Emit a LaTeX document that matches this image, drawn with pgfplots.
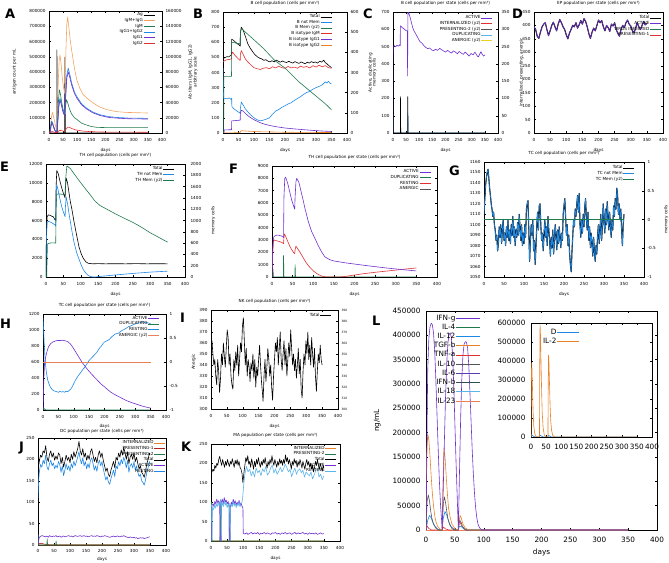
\documentclass[border=0pt]{standalone}
\usepackage{pgfplots}
\usepackage{pgfplotstable}
\pgfplotsset{compat=1.18}
\usepackage{fontspec}
\setmainfont{DejaVu Sans}
\newcommand{\sm}{\fontsize{4.2}{5}\selectfont}
\newcommand{\xs}{\fontsize{3}{3.6}\selectfont}
\newcommand{\md}{\fontsize{7.3}{8.8}\selectfont}
\newcommand{\lett}{\fontsize{13}{13}\selectfont\bfseries}
\definecolor{gpurple}{HTML}{7030D0}
\definecolor{ggreen}{HTML}{1F7A4D}
\definecolor{gblue}{HTML}{1E88E5}
\definecolor{glblue}{HTML}{5AB4E9}
\definecolor{gorange}{HTML}{E8822A}
\definecolor{glorange}{HTML}{F4A460}
\definecolor{gred}{HTML}{E03030}
\definecolor{gyellow}{HTML}{E8D020}
\definecolor{ggray}{HTML}{555555}
\definecolor{gdred}{HTML}{B02020}
\definecolor{gsalmon}{HTML}{E8805A}
\definecolor{gslate}{HTML}{2F4F4F}
\definecolor{gviolet}{HTML}{5A3AB0}

\pgfplotsset{
  /pgf/number format/assume math mode=true,
  /pgf/number format/1000 sep={},
  /pgf/number format/fixed,
  /pgf/number format/precision=2,
  legend image code/.code={\draw[#1,line width=0.7pt] (0pt,0pt) -- (11pt,0pt);},
  gp/.style={
    scale only axis, anchor=north west,
    xmin=0, xmax=400, xtick={0,50,100,150,200,250,300,350,400},
    font=\sm, tick label style={font=\sm},
    xticklabel style={yshift=-1.5pt},
    label style={font=\sm},
    title style={font=\sm, yshift=-3pt},
    xlabel={days},
    scaled y ticks=false, scaled x ticks=false,
    yticklabel={\pgfmathprintnumber[fixed,precision=2,1000 sep={},assume math mode=true]{\tick}},
    major tick length=2pt,
    axis line style={line width=0.45pt,-},
    every tick/.style={black, line width=0.4pt},
    tick align=inside,
    legend cell align=right, legend plot pos=right,
    legend style={draw=none, fill=none, font=\sm, anchor=north east, inner sep=0pt, row sep=0pt, nodes={inner sep=0.5pt}},
    every axis plot/.append style={line width=0.6pt, line join=round},
  },
  gp2/.style={gp, axis y line*=right, axis x line=none, xlabel={}},
}

\pgfplotstableread{
day v
0 395
5 385
10 360
15 352
20 375
25 395
30 405
35 410
40 385
45 362
50 380
55 400
60 412
65 395
70 380
75 405
80 422
85 410
90 395
95 385
100 365
105 350
110 372
115 385
120 400
125 395
130 410
135 390
140 402
145 418
150 405
155 425
160 415
165 395
170 370
175 352
180 375
185 390
190 380
195 400
200 420
205 410
210 418
215 395
220 380
225 400
230 392
235 378
240 405
245 398
250 410
255 385
260 370
265 360
270 385
275 400
280 392
285 410
290 420
295 405
300 398
305 380
310 372
315 390
320 410
325 395
330 385
335 400
340 415
345 402
350 408
}\tabD

\pgfplotstableread{
day v
0 1110
2 1125
4 1138
6 1145
8 1150
10 1153
12 1145
14 1135
16 1128
18 1120
20 1115
22 1108
24 1112
26 1100
28 1095
30 1085
32 1090
34 1075
36 1082
38 1098
40 1088
42 1100
44 1082
46 1095
48 1105
50 1085
52 1092
54 1080
56 1098
58 1088
60 1104
62 1085
64 1095
66 1082
68 1100
70 1090
72 1108
74 1088
76 1098
78 1080
80 1095
82 1088
84 1102
86 1090
88 1110
90 1098
92 1085
94 1100
96 1080
98 1092
100 1082
102 1100
104 1088
106 1115
108 1120
110 1123
112 1095
114 1065
116 1085
118 1100
120 1090
122 1105
124 1075
126 1085
128 1062
130 1080
132 1100
134 1112
136 1095
138 1118
140 1120
142 1100
144 1085
146 1092
148 1075
150 1090
152 1105
154 1088
156 1098
158 1080
160 1108
162 1095
164 1085
166 1070
168 1088
170 1078
172 1095
174 1072
176 1085
178 1100
180 1090
182 1076
184 1095
186 1082
188 1098
190 1088
192 1078
194 1092
196 1085
198 1110
200 1118
202 1125
204 1108
206 1090
208 1100
210 1080
212 1090
214 1072
216 1062
218 1055
220 1075
222 1090
224 1105
226 1098
228 1115
230 1108
232 1120
234 1128
236 1112
238 1130
240 1100
242 1088
244 1105
246 1092
248 1110
250 1098
252 1118
254 1125
256 1105
258 1095
260 1112
262 1085
264 1098
266 1078
268 1092
270 1082
272 1070
274 1088
276 1075
278 1065
280 1080
282 1072
284 1090
286 1100
288 1082
290 1095
292 1110
294 1085
296 1098
298 1120
300 1105
302 1092
304 1115
306 1100
308 1122
310 1108
312 1095
314 1112
316 1100
318 1088
320 1105
322 1095
324 1118
326 1108
328 1125
330 1115
332 1135
334 1128
336 1110
338 1120
340 1105
342 1115
344 1095
346 1080
348 1100
350 1110
}\tabG

\pgfplotstableread{
day v
0 355
3 362
6 350
9 340
12 345
15 330
18 322
21 345
24 335
27 315
30 328
33 350
36 340
39 360
42 348
45 338
48 355
51 372
54 365
57 340
60 350
63 330
66 322
69 318
72 345
75 335
78 352
81 340
84 358
87 330
90 345
93 360
96 352
99 375
102 383
105 362
108 340
111 355
114 330
117 345
120 338
123 325
126 342
129 335
132 350
135 328
138 345
141 320
144 338
147 330
150 345
153 358
156 340
159 325
162 315
164 307
167 330
170 345
173 325
176 338
179 355
182 345
185 330
188 340
191 320
194 308
197 330
200 345
203 360
206 352
209 365
212 340
215 355
218 370
221 345
224 335
227 350
230 362
233 340
236 355
239 330
242 345
245 360
248 348
251 372
254 355
257 340
260 350
263 335
266 345
269 328
272 340
275 355
278 332
281 345
284 318
287 310
290 335
293 350
296 340
299 362
302 350
305 370
308 345
311 358
314 340
317 365
320 350
323 338
326 355
329 330
332 316
335 335
338 350
341 342
344 358
347 345
350 340
}\tabI

\pgfplotstableread{
day tot rest act
0 175 110 0
2 185 150 10
4 195 170 18
8 210 188 20
12 205 182 22
16 220 198 21
20 215 190 20
24 232 210 19
28 205 183 21
32 195 175 18
36 212 190 22
40 220 198 20
44 205 185 19
48 215 192 21
52 198 178 20
56 208 186 22
60 200 180 19
64 215 195 20
68 210 188 21
72 190 170 18
76 205 185 20
80 182 162 21
84 195 175 19
88 210 190 20
92 198 176 21
96 205 185 22
100 192 172 20
104 212 190 21
108 200 180 19
112 218 196 20
116 205 185 22
120 215 195 21
124 225 205 20
128 242 218 21
132 220 200 22
136 210 190 20
140 225 204 21
144 205 185 22
148 215 195 20
152 198 178 21
156 210 190 19
160 200 180 20
164 218 198 21
168 225 204 22
172 210 190 20
176 195 175 21
180 205 185 20
184 192 172 22
188 210 190 21
192 220 198 20
196 205 185 19
200 215 195 21
204 198 178 20
208 185 165 22
212 172 152 21
216 180 160 20
220 165 147 19
224 160 142 18
228 175 155 19
232 185 165 20
236 195 175 21
240 180 160 19
244 205 185 20
248 198 178 21
252 215 195 20
256 205 185 19
260 222 200 21
264 210 190 20
268 228 205 22
272 215 195 20
276 200 180 19
280 218 198 18
284 190 170 17
288 205 185 19
292 212 190 18
296 200 180 17
300 215 195 18
304 195 175 16
308 205 185 17
312 190 170 15
316 178 160 16
320 185 165 17
324 170 150 16
328 165 146 17
332 158 140 15
336 172 152 16
340 190 170 17
344 200 180 18
348 215 195 19
350 210 190 19
}\tabJ

\pgfplotstableread{
day v
0 172
3 178
6 185
9 180
12 195
15 188
18 200
21 195
24 210
27 218
30 205
33 195
36 210
39 200
42 190
45 205
48 195
51 210
54 200
57 192
60 205
63 198
66 212
69 200
72 190
75 208
78 198
81 210
84 195
87 205
90 190
93 185
96 175
99 150
102 175
105 195
108 215
111 205
114 220
117 198
120 205
123 190
126 212
129 200
132 185
135 205
138 192
141 210
144 198
147 215
150 200
153 190
156 205
159 195
162 210
165 200
168 215
171 198
174 188
177 205
180 195
183 210
186 200
189 220
192 205
195 195
198 210
201 200
204 190
207 205
210 195
213 212
216 200
219 208
222 195
225 210
228 200
231 222
234 205
237 215
240 198
243 210
246 200
249 185
252 205
255 195
258 212
261 200
264 208
267 190
270 205
273 195
276 210
279 200
282 188
285 205
288 195
291 185
294 200
297 210
300 195
303 205
306 190
309 200
312 185
315 195
318 178
321 190
324 205
327 195
330 210
333 195
336 185
339 200
342 190
345 180
348 195
350 188
}\tabK

\begin{document}
\begin{tikzpicture}[x=1pt,y=1pt]
\path[use as bounding box] (0,0) rectangle (669,-562);

% ---------------- A ----------------
\begin{axis}[gp, at={(49pt,-11pt)}, width=113pt, height=122pt,
  ymin=0, ymax=800000, ytick={0,100000,200000,300000,400000,500000,600000,700000,800000}, ytick pos=left,
  ylabel={antigen count per mL}, ylabel style={at={(ticklabel cs:0.5,6pt)}}]
\addplot[black] coordinates {(0,0)(0,735000)(1.5,0)(27.8,0)(28,545000)(29.8,0)(55.8,0)(56,497000)(57.8,0)(350,0)};
\end{axis}
\begin{axis}[gp2, at={(49pt,-11pt)}, width=113pt, height=122pt,
  ymin=0, ymax=160000, ytick={0,20000,40000,60000,80000,100000,120000,140000,160000},
  ylabel={Ab titers (IgM, IgG1, IgG2)\\arbitrary scale}, ylabel style={align=center},
  legend style={at={(0.94,0.99)}}]
\addlegendimage{black}\addlegendentry{Ag}
\addplot[glorange] coordinates {(0,0)(3,500)(6,10000)(9,22000)(13,27000)(17,20000)(21,13000)(25,6000)(28,3000)(30,20000)(33,70000)(36,95000)(39,102400)(43,90000)(47,72000)(51,61000)(55,52000)(57,60000)(60,110000)(63,142000)(66,152000)(70,140000)(75,122000)(80,109000)(90,85000)(98,70000)(110,58000)(121,50200)(140,44000)(157,39200)(180,34000)(204,30600)(240,28000)(275,27000)(350,26200)};
\addlegendentry{IgM+IgG}
\addplot[ggreen] coordinates {(0,0)(3,0)(6,9000)(9,15200)(13,12000)(17,7000)(22,3000)(28,1500)(31,20000)(34,45000)(37,56600)(41,50000)(45,40000)(50,30600)(55,26000)(58,34000)(62,43600)(66,40000)(72,32000)(80,25000)(90,20000)(100,17400)(115,13000)(130,10800)(150,8500)(170,7400)(200,7100)(350,7000)};
\addlegendentry{IgM}
\addplot[gblue] coordinates {(0,0)(4,500)(7,9000)(10,15200)(13,13000)(17,8000)(22,3000)(28,1000)(31,15000)(35,38000)(39,45800)(43,40000)(48,31000)(52,26200)(56,24000)(59,50000)(63,76000)(68,85000)(73,78000)(80,66000)(90,54000)(98,48000)(115,38500)(133,32600)(155,27500)(180,24000)(210,21500)(240,20400)(280,19600)(350,19200)};
\addlegendentry{IgG1+IgG2}
\addplot[gpurple] coordinates {(0,0)(4,400)(7,8000)(10,13000)(13,11500)(17,7000)(22,2500)(28,800)(31,13500)(35,35000)(39,43000)(43,38000)(48,29500)(52,25000)(56,23000)(59,47000)(63,72000)(68,80000)(73,74000)(80,63000)(90,52000)(98,46000)(115,37000)(133,31500)(155,26500)(180,23000)(210,20500)(240,19500)(280,18700)(350,18300)};
\addlegendentry{IgG1}
\addplot[gred] coordinates {(0,0)(6,1000)(10,2000)(15,1500)(25,500)(30,1000)(37,3500)(45,3000)(55,2000)(60,5000)(66,7800)(72,7500)(80,6000)(95,4000)(120,2500)(150,1700)(200,1200)(350,1000)};
\addlegendentry{IgG2}
\end{axis}

% ---------------- B ----------------
\begin{axis}[gp, at={(223pt,-12pt)}, width=124pt, height=121pt,
  ymin=0, ymax=800, ytick={0,100,...,800}, ytick pos=left,
  title={B cell population (cells per mm³)}]
\addplot[black] coordinates {(0,489)(3,495)(8,500)(13,505)(18,503)(23,510)(27.5,518)(28,620)(32,615)(38,605)(45,592)(52,582)(55.5,575)(56,660)(59,700)(65,680)(72,640)(80,590)(88,560)(95,540)(102,520)(110,505)(118,495)(125,490)(132,480)(138,485)(145,475)(152,470)(158,478)(165,470)(172,482)(178,475)(185,468)(192,476)(198,470)(205,466)(212,474)(218,468)(225,462)(232,472)(238,466)(245,460)(252,470)(258,464)(265,458)(272,468)(278,462)(285,472)(292,465)(298,470)(305,462)(312,476)(318,468)(325,482)(330,465)(335,458)(340,448)(345,440)(350,432)};
\addplot[gblue] coordinates {(0,430)(1,300)(2,225)(8,228)(14,226)(20,232)(26,222)(28,230)(28.5,175)(35,160)(42,150)(50,138)(55.5,130)(56,160)(59,205)(65,185)(72,160)(80,140)(90,118)(100,100)(110,88)(120,80)(130,85)(140,92)(150,100)(160,125)(170,145)(180,155)(190,170)(200,180)(210,192)(220,200)(230,215)(240,228)(250,240)(260,255)(270,268)(280,275)(290,290)(300,300)(310,308)(320,318)(330,338)(335,330)(340,342)(345,330)(350,325)};
\addplot[gred] coordinates {(0,470)(5,478)(12,484)(20,486)(27.5,490)(28,520)(31,535)(38,515)(45,500)(52,485)(55.5,480)(56,520)(59,545)(65,520)(72,490)(80,470)(90,450)(100,432)(110,425)(120,420)(130,428)(140,432)(150,425)(160,438)(170,430)(180,442)(190,432)(200,428)(210,440)(220,430)(230,436)(240,428)(250,442)(260,434)(270,440)(280,430)(290,445)(300,436)(310,448)(320,438)(330,445)(340,432)(350,428)};
\addplot[gpurple] coordinates {(0,0)(3,0)(4,20)(27.5,22)(28,80)(55.5,85)(56,130)(59,150)(65,145)(72,130)(80,115)(90,100)(100,88)(110,78)(120,68)(135,58)(150,50)(170,42)(200,33)(230,27)(260,22)(290,17)(320,13)(350,10)};
\addplot[gorange] coordinates {(0,0)(55,2)(56,10)(60,15)(80,12)(120,8)(200,5)(350,3)};
\end{axis}
\begin{axis}[gp2, at={(223pt,-12pt)}, width=124pt, height=121pt,
  ymin=0, ymax=600, ytick={0,100,...,600},
  ylabel={memory cells}, ylabel style={at={(ticklabel cs:0.5,7pt)}},
  legend style={at={(0.88,0.985)}}]
\addlegendimage{black}\addlegendentry{Total}
\addlegendimage{gblue}\addlegendentry{B not Mem}
\addlegendimage{ggreen}\addlegendentry{B Mem (y2)}
\addlegendimage{gred}\addlegendentry{B isotype IgM}
\addlegendimage{gpurple}\addlegendentry{B isotype IgG1}
\addlegendimage{gorange}\addlegendentry{B isotype IgG2}
\addplot[ggreen, forget plot] coordinates {(0,0)(2,0)(3,281)(27.5,281)(28,450)(55.5,442)(56,500)(60,517)(100,462)(130,420)(168,358)(200,322)(243,256)(275,215)(308,173)(330,145)(350,115)};
\end{axis}

% ---------------- C ----------------
\begin{axis}[gp, at={(393pt,-12pt)}, width=105pt, height=121pt,
  ymin=0, ymax=700, ytick={0,100,...,700}, ytick pos=left,
  ylabel={Active, duplicating}, ylabel style={at={(ticklabel cs:0.5,2pt)}},
  title={B cell population per state (cells per mm³)}]
\addplot[glblue] coordinates {(0,0)(0.5,100)(1.5,0)(28,0)(28.5,100)(29.5,0)(56,0)(56.5,115)(57.5,0)(350,0)};
\addplot[gpurple] coordinates {(0,0)(0.8,500)(5,505)(10,498)(15,508)(20,502)(25,510)(27.5,505)(28,620)(30,618)(35,610)(40,605)(45,598)(50,592)(55,590)(55.5,330)(57,700)(60,695)(65,670)(70,640)(75,610)(80,590)(88,570)(95,550)(102,530)(110,520)(118,505)(125,495)(132,488)(140,492)(148,480)(155,476)(162,485)(170,478)(178,490)(185,482)(192,475)(200,468)(208,478)(215,470)(222,462)(230,475)(238,468)(245,458)(252,472)(260,462)(268,455)(275,468)(282,458)(290,445)(297,460)(305,452)(312,468)(320,448)(325,440)(330,455)(335,470)(340,455)(345,445)(350,452)};
\end{axis}
\begin{axis}[gp2, at={(393pt,-12pt)}, width=105pt, height=121pt,
  ymin=0, ymax=350, ytick={0,50,...,350},
  ylabel={internalized, presenting, anergic}, ylabel style={at={(ticklabel cs:0.5,3pt)}},
  legend style={at={(0.952,0.975)}}]
\addlegendimage{gpurple}\addlegendentry{ACTIVE}
\addlegendimage{gred}\addlegendentry{INTERNALIZED (y2)}
\addlegendimage{ggray}\addlegendentry{PRESENTING-2 (y2)}
\addlegendimage{glblue}\addlegendentry{DUPLICATING}
\addlegendimage{gyellow}\addlegendentry{ANERGIC (y2)}
\addplot[gred, forget plot] coordinates {(0,0)(350,0)};
\addplot[black, forget plot] coordinates {(0,0)(0.3,335)(1.5,0)(28,0)(28.3,105)(29.5,0)(56,0)(56.3,105)(57.5,0)(350,0)};
\addplot[gyellow, forget plot] coordinates {(0,0)(350,0)};
\end{axis}

% ---------------- D ----------------
\begin{axis}[gp, at={(534pt,-12pt)}, width=129pt, height=121pt,
  ymin=0, ymax=450, ytick={0,50,...,450},
  title={EP population per state (cells per mm³)},
  legend style={at={(0.99,0.975)}}]
\addlegendimage{black}\addlegendentry{Total}
\addlegendimage{gpurple}\addlegendentry{ACTIVE}
\addlegendimage{ggreen}\addlegendentry{VIRUS INFECTED}
\addlegendimage{gred}\addlegendentry{PRESENTING-1}
\addplot[black, line width=1.1pt, forget plot] table[x=day,y=v] {\tabD};
\addplot[gpurple, forget plot] table[x=day,y=v] {\tabD};
\addplot[ggreen, forget plot] coordinates {(0,0)(350,0)};
\addplot[gred, forget plot] coordinates {(0,0)(350,0)};
\end{axis}

% ---------------- E ----------------
\begin{axis}[gp, at={(46pt,-164pt)}, width=139pt, height=113pt,
  ymin=0, ymax=12000, ytick={0,2000,...,12000}, ytick pos=left,
  title={TH cell population (cells per mm³)}]
\addplot[black] coordinates {(0,0)(1,4000)(3,6400)(7,6600)(12,6550)(17,6450)(21,6400)(26,6070)(28,6000)(29,9500)(31,11300)(35,11000)(40,10200)(45,9500)(50,8900)(55,8400)(56,9500)(58,10500)(62,10000)(66,9000)(70,8000)(74,7300)(80,6000)(88,4470)(95,3200)(101,2500)(107,2000)(115,1600)(122,1450)(135,1400)(150,1420)(170,1400)(200,1410)(230,1400)(260,1420)(290,1400)(320,1410)(350,1400)};
\addplot[gblue] coordinates {(0,0)(1,3800)(3,5800)(7,5900)(12,5850)(17,5750)(21,5650)(26,5540)(28,5400)(29,8500)(31,9800)(35,9200)(40,8300)(45,7500)(50,6900)(55,6400)(56,7500)(58,8500)(62,7800)(66,6800)(70,5900)(74,5000)(80,3800)(88,2600)(95,1900)(101,1300)(107,800)(115,400)(122,150)(130,30)(140,0)(160,80)(200,220)(250,380)(300,520)(350,620)};
\end{axis}
\begin{axis}[gp2, at={(46pt,-164pt)}, width=139pt, height=113pt,
  ymin=0, ymax=2000, ytick={0,200,...,2000},
  yticklabel style={xshift=2pt},
  ylabel={memory cells}, ylabel style={at={(ticklabel cs:0.5,3pt)}},
  legend style={at={(0.928,0.982)}}]
\addlegendimage{black}\addlegendentry{Total}
\addlegendimage{gblue}\addlegendentry{TH not Mem}
\addlegendimage{ggreen}\addlegendentry{TH Mem (y2)}
\addplot[ggreen, forget plot] coordinates {(0,0)(2,0)(4,583)(10,600)(20,605)(28,600)(29,1200)(31,1467)(40,1470)(50,1460)(55,1455)(56,1700)(60,1967)(70,1920)(80,1833)(100,1667)(115,1550)(130,1433)(140,1350)(155,1267)(175,1200)(200,1117)(225,1040)(250,967)(275,880)(300,783)(325,700)(350,617)};
\end{axis}

% ---------------- F ----------------
\begin{axis}[gp, at={(272pt,-166pt)}, width=165pt, height=111pt,
  ymin=0, ymax=9000, ytick={0,1000,...,9000},
  title={TH cell population per state (cells per mm³)},
  legend style={at={(0.964,0.973)}}]
\addlegendimage{gpurple}\addlegendentry{ACTIVE}
\addlegendimage{ggreen}\addlegendentry{DUPLICATING}
\addlegendimage{gred}\addlegendentry{RESTING}
\addlegendimage{ggray}\addlegendentry{ANERGIC}
\addplot[ggray, forget plot] coordinates {(0,0)(350,0)};
\addplot[ggreen, forget plot] coordinates {(0,0)(2,0)(2.5,600)(3.5,0)(27.5,0)(28,1750)(29,0)(55.5,0)(56,1000)(57,0)(350,0)};
\addplot[gred, forget plot] coordinates {(0,0)(1,1500)(3,2800)(5,3000)(10,2950)(15,2900)(20,2850)(25,2780)(28,2700)(29,3200)(30,3500)(33,3300)(38,2900)(43,2500)(48,2200)(53,1950)(55,1900)(56,2200)(58,2500)(62,2300)(68,2000)(75,1600)(82,1200)(90,850)(100,500)(110,250)(120,80)(130,10)(140,0)(165,0)(180,60)(200,160)(225,280)(250,380)(275,470)(300,560)(325,650)(350,730)};
\addplot[gpurple, forget plot] coordinates {(0,0)(1,1500)(3,3000)(5,3300)(10,3380)(15,3400)(20,3350)(25,3300)(28,3200)(29,6500)(31,8000)(33,8100)(38,7600)(43,6900)(48,6200)(53,5700)(55,5500)(56,6500)(58,7700)(60,8000)(65,7700)(70,7000)(75,6300)(80,5550)(88,4500)(96,3700)(104,3130)(112,2550)(120,2050)(128,1640)(140,1400)(150,1300)(161,1240)(175,1160)(200,1050)(225,940)(250,840)(275,740)(300,650)(325,570)(350,490)};
\end{axis}

% ---------------- G ----------------
\begin{axis}[gp, at={(484pt,-162pt)}, width=160pt, height=115pt,
  ymin=1050, ymax=1160, ytick={1050,1060,...,1160}, ytick pos=left,
  title={TC cell population (cells per mm³)}]
\addplot[black, line width=1.1pt] table[x=day,y=v] {\tabG};
\addplot[gblue] table[x=day,y=v] {\tabG};
\end{axis}
\begin{axis}[gp2, at={(484pt,-162pt)}, width=160pt, height=115pt,
  ymin=-1, ymax=1, ytick={-1,-0.5,0,0.5,1},
  ylabel={memory cells}, ylabel style={at={(ticklabel cs:0.5,1.5pt)}},
  legend style={at={(0.944,0.974)}}]
\addlegendimage{black}\addlegendentry{Total}
\addlegendimage{gblue}\addlegendentry{TC not Mem}
\addlegendimage{ggreen}\addlegendentry{TC Mem (y2)}
\addplot[ggreen, forget plot] coordinates {(0,0)(350,0)};
\end{axis}

% ---------------- H ----------------
\begin{axis}[gp, at={(43pt,-314pt)}, width=123pt, height=96pt,
  ymin=0, ymax=1200, ytick={0,200,...,1200}, ytick pos=left,
  xlabel style={yshift=1pt},
  title={TC cell population per state (cells per mm³)}]
\addplot[ggreen] coordinates {(0,0)(2,30)(5,10)(10,0)(350,0)};
\addplot[gblue] coordinates {(0,1150)(2,1000)(4,820)(6,680)(8,580)(11,470)(15,380)(20,320)(25,280)(30,255)(35,240)(40,235)(45,228)(50,222)(55,232)(60,225)(65,230)(70,222)(75,235)(80,228)(85,245)(90,260)(95,290)(100,330)(105,370)(110,400)(115,430)(120,455)(125,480)(130,510)(135,530)(140,560)(145,590)(150,620)(155,640)(160,660)(165,680)(170,700)(175,720)(180,750)(185,780)(190,800)(195,830)(200,850)(205,860)(210,870)(215,880)(220,900)(225,920)(230,935)(235,950)(240,955)(245,960)(250,975)(255,990)(260,1000)(265,1010)(270,1020)(275,1035)(280,1045)(285,1050)(290,1060)(295,1070)(300,1075)(305,1085)(310,1090)(315,1088)(320,1100)(325,1105)(330,1098)(335,1095)(340,1090)(345,1085)(350,1080)};
\addplot[gpurple] coordinates {(0,0)(1,150)(3,420)(5,580)(8,650)(12,720)(18,790)(25,830)(32,850)(40,862)(48,870)(56,868)(64,872)(72,865)(80,855)(88,830)(96,790)(104,740)(112,690)(120,640)(128,590)(136,550)(144,510)(152,475)(160,440)(170,400)(180,360)(190,320)(200,290)(210,255)(220,225)(230,200)(240,180)(250,160)(260,140)(270,120)(280,105)(290,90)(300,78)(310,65)(320,52)(330,42)(340,32)(350,25)};
\end{axis}
\begin{axis}[gp2, at={(43pt,-314pt)}, width=123pt, height=96pt,
  ymin=-1, ymax=1, ytick={-1,-0.5,0,0.5,1},
  ylabel={Anergic}, ylabel style={at={(ticklabel cs:0.5,7pt)}},
  legend style={at={(0.951,0.984)}}]
\addlegendimage{gpurple}\addlegendentry{ACTIVE}
\addlegendimage{ggreen}\addlegendentry{DUPLICATING}
\addlegendimage{gblue}\addlegendentry{RESTING}
\addlegendimage{gsalmon}\addlegendentry{ANERGIC (y2)}
\addplot[gsalmon, forget plot] coordinates {(0,0)(350,0)};
\end{axis}

% ---------------- I ----------------
\begin{axis}[gp, at={(211pt,-310pt)}, width=127pt, height=99pt,
  ymin=300, ymax=390, ytick={300,310,...,390}, ytick pos=left,
  title={NK cell population (cells per mm³)},
  legend style={at={(0.953,0.975)}}]
\addlegendimage{black}\addlegendentry{Total}
\addplot[black, forget plot] table[x=day,y=v] {\tabI};
\end{axis}
\begin{axis}[gp2, at={(211pt,-310pt)}, width=127pt, height=99pt,
  ymin=300, ymax=390, ytick={300,310,...,390},
  tick label style={font=\xs}]
\addplot[draw=none, forget plot] coordinates {(0,300)(350,300)};
\end{axis}

% ---------------- J ----------------
\begin{axis}[gp, at={(38pt,-438pt)}, width=128pt, height=107pt,
  ymin=0, ymax=250, ytick={0,50,...,250},
  title style={yshift=-1.5pt},
  xticklabel style={yshift=0.8pt},
  xlabel style={yshift=2.2pt},
  title={DC population per state (cells per mm³)},
  legend style={at={(1.0,0.98)}}]
\addlegendimage{gorange}\addlegendentry{INTERNALIZED}
\addlegendimage{gdred}\addlegendentry{PRESENTING-1}
\addlegendimage{ggreen}\addlegendentry{PRESENTING-2}
\addlegendimage{black}\addlegendentry{Total}
\addlegendimage{gpurple}\addlegendentry{ACTIVE}
\addlegendimage{gblue}\addlegendentry{RESTING}
\addplot[gorange, forget plot] coordinates {(0,0)(1,5)(3,0)(350,0)};
\addplot[gdred, forget plot] coordinates {(0,0)(2,3)(10,4)(20,2)(30,1)(40,0)(350,0)};
\addplot[ggreen, forget plot] coordinates {(0,0)(0.5,25)(2,0)(28,0)(28.5,15)(30,0)(56,0)(56.5,10)(58,0)(350,0)};
\addplot[black, forget plot] table[x=day,y=tot] {\tabJ};
\addplot[gpurple, forget plot] table[x=day,y=act] {\tabJ};
\addplot[gblue, forget plot] table[x=day,y=rest] {\tabJ};
\end{axis}

% ---------------- K ----------------
\begin{axis}[gp, at={(211pt,-444pt)}, width=129pt, height=97pt,
  ymin=0, ymax=250, ytick={0,50,...,250},
  title={MA population per state (cells per mm³)},
  legend style={at={(0.977,0.985)}}]
\addlegendimage{gorange}\addlegendentry{INTERNALIZED}
\addlegendimage{ggreen}\addlegendentry{PRESENTING-2}
\addlegendimage{black}\addlegendentry{Total}
\addlegendimage{gpurple}\addlegendentry{ACTIVE}
\addlegendimage{glblue}\addlegendentry{RESTING}
\addplot[gorange, forget plot] coordinates {(0,0)(1,3)(3,0)(350,0)};
\addplot[ggreen, forget plot] coordinates {(0,0)(0.5,100)(2,100)(3,0)(28,0)(28.5,95)(30,95)(31,0)(56,0)(56.5,90)(58,90)(59,0)(350,0)};
\addplot[black, forget plot] table[x=day,y=v] {\tabK};
\addplot[gpurple, forget plot] coordinates {(0,0)(2,0)(3,92)(6,96)(9,90)(12,102)(15,95)(18,108)(21,98)(24,104)(27,96)(28,0)(31,0)(32,100)(35,108)(38,96)(41,112)(44,100)(47,106)(50,95)(53,102)(56,90)(57,0)(59,0)(60,88)(63,100)(66,94)(69,108)(72,96)(75,104)(78,92)(81,100)(84,95)(87,105)(90,92)(93,98)(96,90)(99,85)(100,20)(105,18)(110,21)(115,17)(120,20)(125,22)(130,18)(135,21)(140,19)(145,22)(150,17)(155,20)(160,19)(165,22)(170,18)(175,21)(180,19)(185,17)(190,21)(195,20)(200,22)(205,18)(210,20)(215,17)(220,21)(225,19)(230,22)(235,18)(240,20)(245,21)(250,17)(255,20)(260,22)(265,18)(270,21)(275,19)(280,20)(285,22)(290,18)(295,20)(300,17)(305,21)(310,19)(315,20)(320,18)(325,21)(330,17)(335,19)(340,21)(345,18)(350,19)};
\addplot[glblue, forget plot] coordinates {(0,95)(2,90)(3,0)(4,85)(7,80)(10,92)(13,84)(16,96)(19,88)(22,100)(25,90)(27,95)(28,100)(30,108)(31,0)(32,90)(35,98)(38,88)(41,104)(44,92)(47,100)(50,86)(53,95)(56,88)(57,98)(59,0)(60,82)(63,95)(66,88)(69,102)(72,90)(75,98)(78,86)(81,96)(84,90)(87,100)(90,88)(93,96)(96,100)(98,110)(100,130)(102,150)(105,172)(110,192)(115,178)(120,185)(125,168)(130,180)(135,165)(140,188)(145,176)(150,182)(155,168)(160,186)(165,178)(170,192)(175,170)(180,176)(185,188)(190,196)(195,175)(200,186)(205,172)(210,180)(215,190)(220,178)(225,186)(230,198)(235,190)(240,178)(245,185)(250,166)(255,178)(260,188)(265,172)(270,182)(275,186)(280,176)(285,182)(290,165)(295,178)(300,172)(305,168)(310,178)(315,160)(320,170)(325,182)(330,186)(335,165)(340,172)(345,158)(350,168)};
\end{axis}

% ---------------- L ----------------
\begin{axis}[gp, at={(426pt,-311pt)}, width=231pt, height=219pt,
  font=\md, tick label style={font=\md}, label style={font=\md},
  xticklabel style={yshift=-2pt}, yticklabel style={xshift=-2pt},
  ymin=0, ymax=450000, ytick={0,50000,100000,150000,200000,250000,300000,350000,400000,450000},
  ylabel={ng/mL}, ylabel style={at={(ticklabel cs:0.5,5pt)}},
  legend style={font=\md, at={(0.238,0.986)}, row sep=1.3pt},
  legend image code/.code={\draw[#1,line width=0.9pt] (0pt,0pt) -- (24pt,0pt);}]
\addlegendimage{gpurple}\addlegendentry{IFN-g}
\addlegendimage{ggreen}\addlegendentry{IL-4}
\addlegendimage{gblue}\addlegendentry{IL-12}
\addlegendimage{gorange}\addlegendentry{TGF-b}
\addlegendimage{gred}\addlegendentry{TNF-a}
\addlegendimage{ggray}\addlegendentry{IL-10}
\addlegendimage{gviolet}\addlegendentry{IL-6}
\addlegendimage{gslate}\addlegendentry{IFN-b}
\addlegendimage{glblue}\addlegendentry{IL-18}
\addlegendimage{gsalmon}\addlegendentry{IL-23}
\addplot[ggreen, forget plot] coordinates {(0,0)(350,0)};
\addplot[gviolet, forget plot] coordinates {(0,0)(350,0)};
\addplot[gslate, forget plot] coordinates {(0,0)(350,0)};
\addplot[glblue, forget plot] coordinates {(0,0)(350,0)};
\addplot[gsalmon, forget plot] coordinates {(0,0)(350,0)};
\addplot[gred, forget plot] coordinates {(0,0)(2,8000)(5,3000)(10,0)(28,0)(30,6000)(34,2000)(40,0)(56,0)(58,20000)(61,10000)(66,2000)(70,0)(350,0)};
\addplot[gblue, forget plot] coordinates {(0,0)(3,20000)(6,30000)(9,25000)(12,15000)(16,7000)(20,2000)(25,0)(28,0)(30,25000)(33,38000)(36,30000)(40,15000)(44,6000)(50,1000)(56,0)(58,8000)(61,7000)(66,2000)(70,0)(350,0)};
\addplot[ggray, forget plot] coordinates {(0,0)(2,60000)(4,72000)(6,60000)(8,40000)(10,25000)(13,12000)(17,4000)(22,0)(28,0)(30,55000)(32,68000)(34,55000)(36,38000)(38,23000)(41,11000)(45,3000)(50,0)(56,0)(58,20000)(60,18000)(63,8000)(67,2000)(70,0)(350,0)};
\addplot[gorange, forget plot] coordinates {(0,0)(1,150000)(3,197000)(5,185000)(7,150000)(9,110000)(11,75000)(13,50000)(15,30000)(17,18000)(20,8000)(24,2000)(28,0)(29,80000)(31,168000)(33,150000)(35,110000)(37,75000)(39,45000)(42,25000)(45,12000)(50,3000)(56,0)(57,15000)(59,30000)(61,25000)(64,12000)(68,4000)(75,0)(350,0)};
\addplot[gpurple, forget plot] coordinates {(0,0)(1,100000)(2,230000)(3,330000)(5,395000)(7,418000)(9,425000)(11,422000)(13,405000)(15,370000)(17,310000)(19,240000)(21,170000)(23,105000)(25,55000)(27,20000)(28,0)(30,90000)(32,190000)(34,280000)(36,345000)(38,385000)(40,402000)(42,405000)(44,395000)(46,360000)(48,300000)(50,220000)(52,140000)(54,70000)(56,0)(58,120000)(60,230000)(62,310000)(64,360000)(66,382000)(68,387000)(70,386000)(72,375000)(74,340000)(76,285000)(78,225000)(80,165000)(82,115000)(84,75000)(86,45000)(88,25000)(90,12000)(93,4000)(97,0)(350,0)};
\end{axis}
% inset
\begin{axis}[gp, at={(531pt,-323pt)}, width=121pt, height=114pt, xlabel={},
  font=\md, tick label style={font=\md},
  xticklabel style={yshift=-2pt}, yticklabel style={xshift=-2pt},
  ymin=0, ymax=600000, ytick={0,100000,200000,300000,400000,500000,600000},
  axis background/.style={fill=white},
  legend style={font=\md, at={(0.405,0.956)}, row sep=1.3pt},
  legend image code/.code={\draw[#1,line width=0.9pt] (0pt,0pt) -- (22pt,0pt);}]
\addlegendimage{gblue}\addlegendentry{D}
\addlegendimage{gorange}\addlegendentry{IL-2}
\addplot[gblue, forget plot] coordinates {(0,0)(2,12000)(5,8000)(10,2000)(15,0)(28,0)(30,10000)(34,5000)(40,0)(56,0)(58,8000)(62,4000)(68,0)(350,0)};
\addplot[gorange, forget plot] coordinates {(0,0)(1,250000)(2,390000)(3,370000)(5,250000)(7,130000)(9,60000)(12,20000)(16,3000)(22,0)(28,0)(29,400000)(30,590000)(31,560000)(33,400000)(35,250000)(37,130000)(40,50000)(44,10000)(50,0)(56,0)(57,300000)(58,430000)(59,410000)(61,290000)(63,170000)(65,90000)(68,35000)(72,8000)(78,0)(350,0)};
\end{axis}

% panel letters
\node[anchor=north west, inner sep=0pt, font=\lett] at (5,-9) {A};
\node[anchor=north west, inner sep=0pt, font=\lett] at (193,-9) {B};
\node[anchor=north west, inner sep=0pt, font=\lett] at (363,-9) {C};
\node[anchor=north west, inner sep=0pt, font=\lett] at (512,-9) {D};
\node[anchor=north west, inner sep=0pt, font=\lett] at (0,-162) {E};
\node[anchor=north west, inner sep=0pt, font=\lett] at (229,-164) {F};
\node[anchor=north west, inner sep=0pt, font=\lett] at (449,-166) {G};
\node[anchor=north west, inner sep=0pt, font=\lett] at (0,-319) {H};
\node[anchor=north west, inner sep=0pt, font=\lett] at (180,-313) {I};
\node[anchor=north west, inner sep=0pt, font=\lett] at (19,-442) {J};
\node[anchor=north west, inner sep=0pt, font=\lett] at (181,-442) {K};
\node[anchor=north west, inner sep=0pt, font=\lett] at (372,-316) {L};
\end{tikzpicture}
\end{document}
